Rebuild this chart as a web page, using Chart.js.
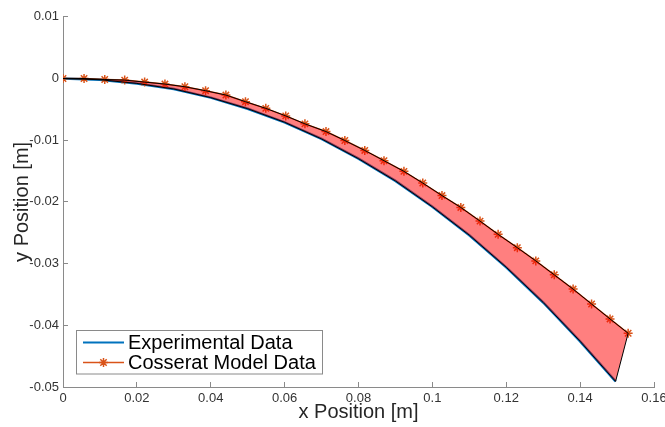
<!DOCTYPE html>
<html>
<head>
<meta charset="utf-8">
<script src="https://cdn.jsdelivr.net/npm/chart.js@4.4.1/dist/chart.umd.min.js"></script>
<style>
html, body { margin: 0; padding: 0; background: #fff; overflow: hidden; }
#wrap { position: relative; width: 680px; height: 427px; }
</style>
</head>
<body>
<div id="wrap"><canvas id="myChart"></canvas></div>
<script>
// values
const expX = [0, 0.01, 0.02, 0.03, 0.04, 0.05, 0.06, 0.07, 0.08, 0.09, 0.10, 0.11, 0.12, 0.13, 0.14, 0.1496];
const expY = [0, -0.0002, -0.0008, -0.0017, -0.0031, -0.0049, -0.0071, -0.0098, -0.0130, -0.0166,
    -0.0208, -0.0254, -0.0306, -0.0363, -0.0426, -0.0491];

const cosseratX = [0, 0.0057, 0.0113, 0.0167, 0.0221, 0.0276, 0.0330, 0.0386, 0.0441, 0.0494,
    0.0549, 0.0603, 0.0655, 0.0712, 0.0763, 0.0817, 0.0869, 0.0923, 0.0974, 0.1026,
    0.1077, 0.1129, 0.1178, 0.1230, 0.1280, 0.1330, 0.1381, 0.1431, 0.1481, 0.1530];
const cosseratY = [0, 0, -0.00016, -0.00026, -0.00058, -0.0009, -0.00134, -0.00198, -0.00268, -0.00376,
    -0.00484, -0.00606, -0.00735, -0.0086, -0.01005, -0.01166, -0.01332, -0.01505, -0.01694, -0.01897,
    -0.0209, -0.02311, -0.02526, -0.02742, -0.02956, -0.03182, -0.03413, -0.03655, -0.03897, -0.04129];

const xTicks = [0, 0.02, 0.04, 0.06, 0.08, 0.1, 0.12, 0.14, 0.16];
const xTickLabels = ['0', '0.02', '0.04', '0.06', '0.08', '0.1', '0.12', '0.14', '0.16'];
const yTicks = [-0.05, -0.04, -0.03, -0.02, -0.01, 0, 0.01];
const yTickLabels = ['-0.05', '-0.04', '-0.03', '-0.02', '-0.01', '0', '0.01'];

const seriesNames = ['Experimental Data', 'Cosserat Model Data'];

const blue = '#0072BD';
const orange = '#D95319';
const axisGray = '#8a8a8a';
const tickText = '#333333';

const toPoints = (xs, ys) => xs.map((x, i) => ({ x: x, y: ys[i] }));
const expPoints = toPoints(expX, expY);
const cosseratPoints = toPoints(cosseratX, cosseratY);
// closed patch between the two curves
const patchPoints = cosseratPoints.concat(expPoints.slice().reverse());

const legendPlugin = {
    id: 'boxLegend',
    afterDraw(chart) {
        const ctx = chart.ctx;
        ctx.save();
        ctx.fillStyle = '#fff';
        ctx.fillRect(76.5, 330.5, 246, 43.5);
        ctx.strokeStyle = axisGray;
        ctx.lineWidth = 1;
        ctx.strokeRect(76.5, 330.5, 246, 43.5);

        const rows = [342.5, 362.5];
        const colors = [blue, orange];
        rows.forEach((y, i) => {
            ctx.strokeStyle = colors[i];
            ctx.lineWidth = i === 0 ? 2 : 1.5;
            ctx.beginPath();
            ctx.moveTo(83, y);
            ctx.lineTo(124, y);
            ctx.stroke();
            if (i === 1) {
                ctx.lineWidth = 1.5;
                Chart.helpers.drawPoint(ctx, { pointStyle: 'star', radius: 4.5, rotation: 0, borderWidth: 1.5 }, 103.5, y);
            }
            ctx.fillStyle = '#000';
            ctx.font = '20px "Liberation Sans", Arial, sans-serif';
            ctx.textAlign = 'left';
            ctx.textBaseline = 'middle';
            ctx.fillText(seriesNames[i], 128, y + 1);
        });
        ctx.restore();
    }
};

const ctx = document.getElementById('myChart').getContext('2d');

new Chart(ctx, {
    type: 'line',
    data: {
        datasets: [
            {
                label: 'patch',
                data: patchPoints,
                borderColor: '#000',
                borderWidth: 1,
                backgroundColor: 'rgba(255, 0, 0, 0.5)',
                fill: 'shape',
                pointRadius: 0,
                tension: 0,
                order: 0
            },
            {
                label: seriesNames[1],
                data: cosseratPoints,
                borderColor: orange,
                borderWidth: 1.5,
                pointStyle: 'star',
                pointRadius: 4.5,
                pointBorderColor: orange,
                pointBackgroundColor: orange,
                pointBorderWidth: 1.5,
                fill: false,
                tension: 0,
                order: 1
            },
            {
                label: seriesNames[0],
                data: expPoints,
                borderColor: blue,
                borderWidth: 2.5,
                pointRadius: 0,
                fill: false,
                tension: 0,
                order: 2
            }
        ]
    },
    options: {
        responsive: true,
        maintainAspectRatio: false,
        animation: false,
        layout: { padding: { left: 0, top: 15, right: 26, bottom: 0 } },
        plugins: {
            legend: { display: false },
            tooltip: { enabled: false }
        },
        scales: {
            x: {
                type: 'linear',
                min: 0,
                max: 0.16,
                afterBuildTicks: (s) => { s.ticks = xTicks.map(v => ({ value: v })); },
                afterFit: (s) => { s.height = 40; },
                ticks: {
                    callback: (v, i) => xTickLabels[i],
                    font: { family: '"Liberation Sans", Arial, sans-serif', size: 13 },
                    color: tickText,
                    padding: 9,
                    maxRotation: 0,
                    autoSkip: false
                },
                grid: { drawOnChartArea: false, drawTicks: true, tickLength: -5, color: axisGray },
                border: { color: axisGray, width: 1 },
                title: {
                    display: true,
                    text: 'x Position [m]',
                    font: { family: '"Liberation Sans", Arial, sans-serif', size: 20 },
                    color: '#262626',
                    padding: { top: 0, bottom: 3 }
                }
            },
            y: {
                type: 'linear',
                min: -0.05,
                max: 0.01,
                afterBuildTicks: (s) => { s.ticks = yTicks.map(v => ({ value: v })); },
                afterFit: (s) => { s.width = 63; },
                ticks: {
                    callback: (v, i) => yTickLabels[i],
                    font: { family: '"Liberation Sans", Arial, sans-serif', size: 13 },
                    color: tickText,
                    padding: 9,
                    autoSkip: false
                },
                grid: { drawOnChartArea: false, drawTicks: true, tickLength: -5, color: axisGray },
                border: { color: axisGray, width: 1 },
                title: {
                    display: true,
                    text: 'y Position [m]',
                    font: { family: '"Liberation Sans", Arial, sans-serif', size: 20 },
                    color: '#262626',
                    padding: { top: 10, bottom: 0 }
                }
            }
        }
    },
    plugins: [legendPlugin]
});
</script>
</body>
</html>
